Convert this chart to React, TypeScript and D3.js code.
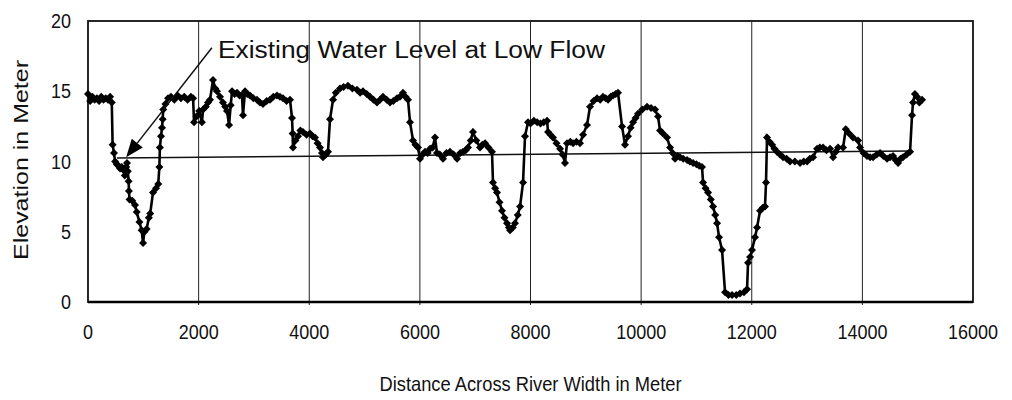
import React from "react";
import * as d3 from "d3";

// distance across the river (m) and bed elevation (m)
const distance = [
  0, 40, 80, 120, 160, 200, 240, 280, 320, 360, 400, 430,
  445, 470, 490, 520, 550, 580, 610, 640, 665, 690, 705, 720, 735, 740, 750,
  800, 850, 880, 930, 970, 995, 1020, 1060, 1100, 1125, 1175, 1230, 1270,
  1290, 1300, 1320, 1338, 1350, 1360, 1400, 1446, 1500, 1560, 1620, 1680,
  1740, 1800, 1860, 1900, 1917, 1960, 2010, 2060, 2080, 2130, 2170, 2206,
  2260, 2300, 2332, 2387, 2440, 2480, 2513, 2550, 2580, 2604, 2650, 2694,
  2740, 2784, 2802, 2839, 2880, 2929, 2990, 3055, 3110, 3164, 3230, 3290,
  3350, 3417, 3470, 3525, 3590, 3652, 3688, 3700, 3706, 3750, 3797, 3840,
  3887, 3950, 4014, 4060, 4104, 4150, 4194, 4230, 4249, 4300, 4339, 4375,
  4430, 4480, 4556, 4620, 4700, 4780, 4863, 4920, 4972, 5040, 5098, 5160,
  5225, 5280, 5333, 5400, 5460, 5520, 5587, 5640, 5695, 5740, 5785, 5822,
  5876, 5920, 5966, 6002, 6050, 6093, 6140, 6184, 6230, 6274, 6310, 6360,
  6418, 6480, 6545, 6610, 6672, 6730, 6780, 6830, 6870, 6920, 6960, 7020,
  7087, 7130, 7178, 7240, 7304, 7322, 7360, 7394, 7440, 7485, 7530, 7575,
  7610, 7630, 7680, 7720, 7770, 7811, 7865, 7901, 7955, 8000, 8060, 8120,
  8180, 8240, 8300, 8317, 8360, 8407, 8470, 8534, 8580, 8624, 8660, 8720,
  8769, 8830, 8895, 8950, 9022, 9076, 9140, 9203, 9260, 9311, 9360, 9402,
  9450, 9492, 9540, 9582, 9655, 9709, 9763, 9810, 9854, 9900, 9944, 10020,
  10107, 10180, 10252, 10306, 10342, 10396, 10468, 10523, 10570, 10613,
  10660, 10703, 10760, 10830, 10880, 10939, 11000, 11050, 11101, 11120,
  11165, 11210, 11260, 11300, 11340, 11373, 11409, 11463, 11517, 11580,
  11644, 11720, 11788, 11860, 11915, 11933, 11970, 12005, 12059, 12096,
  12150, 12200, 12240, 12258, 12276, 12320, 12367, 12410, 12457, 12510,
  12566, 12630, 12692, 12780, 12873, 12940, 13000, 13050, 13108, 13181,
  13230, 13289, 13350, 13416, 13470, 13520, 13560, 13651, 13700, 13760,
  13830, 13922, 13958, 14020, 14084, 14140, 14193, 14260, 14320, 14380,
  14446, 14500, 14555, 14600, 14645, 14690, 14735, 14800, 14862, 14898,
  14916, 14950, 14989, 15030, 15079,
];

const elevation = [
  14.8, 14.3, 14.6, 14.4, 14.5, 14.3, 14.6, 14.4, 14.5, 14.4, 14.6, 14.2,
  11.2, 10.6, 10.0, 9.8, 9.7, 9.5, 9.6, 9.4, 9.0, 9.6, 9.9, 9.3, 8.6, 7.9, 7.3,
  7.2, 6.9, 6.4, 5.7, 5.1, 4.2, 5.0, 5.2, 6.0, 6.3, 7.8, 8.1, 8.4,
  9.6, 11.0, 11.8, 12.4, 13.0, 13.7, 14.1, 14.5, 14.6, 14.4, 14.7, 14.5,
  14.6, 14.4, 14.6, 14.5, 12.8, 13.2, 13.6, 12.8, 13.7, 13.9, 14.2, 14.4,
  15.8, 15.2, 15.0, 14.6, 14.2, 13.9, 13.6, 12.6, 14.0, 15.0, 14.8, 14.9,
  14.7, 14.7, 13.3, 15.0, 14.8, 14.7, 14.5, 14.4, 14.2, 14.1, 14.3, 14.4,
  14.6, 14.7, 14.6, 14.5, 14.3, 14.4, 13.1, 12.0, 11.0, 11.5, 11.8, 12.2,
  12.1, 11.9, 12.0, 11.8, 11.7, 11.3, 11.0, 10.6, 10.3, 10.5, 10.7, 13.0,
  14.4, 14.9, 15.2, 15.3, 15.4, 15.2, 15.1, 14.9, 15.0, 14.8, 14.6, 14.4,
  14.2, 14.4, 14.6, 14.4, 14.2, 14.3, 14.5, 14.6, 14.9, 14.6, 14.4, 12.8,
  11.5, 11.2, 11.0, 10.2, 10.5, 10.7, 10.6, 10.9, 11.0, 11.7, 10.6, 10.5,
  10.2, 10.6, 10.7, 10.5, 10.2, 10.6, 10.7, 10.8, 11.0, 11.5, 12.1, 11.5,
  11.0, 11.2, 11.3, 11.0, 10.7, 8.5, 8.1, 7.8, 7.1, 6.5, 6.0, 5.6,
  5.3, 5.1, 5.3, 5.6, 6.2, 6.8, 8.5, 11.8, 12.8, 12.7, 12.9, 12.8,
  12.7, 12.8, 12.9, 12.1, 11.9, 11.7, 11.3, 10.9, 10.5, 9.9, 11.3, 11.4,
  11.3, 11.4, 11.3, 11.9, 12.6, 13.9, 14.3, 14.5, 14.4, 14.6, 14.5, 14.4,
  14.6, 14.7, 14.8, 14.9, 12.5, 11.2, 11.8, 12.4, 12.8, 13.1, 13.4, 13.7,
  13.9, 13.8, 13.7, 13.2, 12.2, 12.0, 11.7, 11.0, 10.6, 10.2,
  10.4, 10.3, 10.2, 10.1, 10.0, 9.9, 9.8, 9.7, 9.6, 8.5,
  8.1, 7.8, 7.3, 6.8, 6.2, 5.6, 4.6, 3.7, 0.7, 0.5,
  0.5, 0.5, 0.6, 0.7, 0.9, 2.8, 3.2, 3.7, 4.6, 5.3,
  6.5, 6.7, 6.8, 8.5, 11.7, 11.4, 11.2, 10.9, 10.7, 10.5,
  10.3, 10.2, 10.0, 10.0, 9.9, 10.0, 10.0, 10.2, 10.3, 10.9,
  11.0, 11.0, 10.8, 10.9, 10.3, 10.7, 11.0, 11.0, 12.3, 12.0,
  11.7, 11.5, 11.0, 10.6, 10.4, 10.3, 10.3, 10.5, 10.6, 10.4,
  10.2, 10.3, 10.4, 10.1, 9.9, 10.2, 10.3, 10.5, 10.7, 13.3,
  14.2, 14.8, 14.6, 14.2, 14.4,
];

// low-flow water level line (two ends)
const waterX = [524, 14900];
const waterY = [10.25, 10.75];

const xTicks = [0, 2000, 4000, 6000, 8000, 10000, 12000, 14000, 16000];
const yTicks = [0, 5, 10, 15, 20];

const W = 1012;
const H = 400;
const margin = { top: 21, right: 39, bottom: 98, left: 88 };
const font = "'Liberation Sans', Arial, sans-serif";

const App = () => {
  const x = d3
    .scaleLinear()
    .domain([0, 16000])
    .range([margin.left, W - margin.right]);
  const y = d3
    .scaleLinear()
    .domain([0, 20])
    .range([H - margin.bottom, margin.top]);

  const pts: [number, number][] = distance.map((d, i) => [d, elevation[i]]);
  const line = d3
    .line<[number, number]>()
    .x((d) => x(d[0]))
    .y((d) => y(d[1]));

  const marker = d3.symbol().type(d3.symbolSquare).size(32)();

  // annotation arrow, in data units
  const tip = [690, 10.3];
  const tail = [2240, 18.1];
  const ang = Math.atan2(y(tip[1]) - y(tail[1]), x(tip[0]) - x(tail[0]));
  const hl = 18;
  const hw = 7;
  const tx = x(tip[0]);
  const ty = y(tip[1]);
  const bx = tx - hl * Math.cos(ang);
  const by = ty - hl * Math.sin(ang);
  const head = [
    [tx, ty],
    [bx + hw * Math.sin(ang), by - hw * Math.cos(ang)],
    [bx - hw * Math.sin(ang), by + hw * Math.cos(ang)],
  ]
    .map((p) => p.join(","))
    .join(" ");

  return (
    <svg
      width={W}
      height={H}
      style={{ position: "absolute", left: 0, top: 0, background: "#fff" }}
    >
      {/* vertical grid */}
      {xTicks.slice(1, -1).map((t) => (
        <line
          key={t}
          x1={x(t)}
          x2={x(t)}
          y1={y(20)}
          y2={y(0) + 3}
          stroke="#222"
          strokeWidth={1}
        />
      ))}

      {/* plot frame */}
      <rect
        x={x(0)}
        y={y(20)}
        width={x(16000) - x(0)}
        height={y(0) - y(20)}
        fill="none"
        stroke="#111"
        strokeWidth={1.8}
      />
      <line x1={x(0)} x2={x(16000)} y1={y(0)} y2={y(0)} stroke="#000" strokeWidth={2.4} />

      {/* water level */}
      <line
        x1={x(waterX[0])}
        x2={x(waterX[1])}
        y1={y(waterY[0])}
        y2={y(waterY[1])}
        stroke="#111"
        strokeWidth={1.5}
      />

      {/* bed profile */}
      <path d={line(pts) ?? ""} fill="none" stroke="#000" strokeWidth={2.6} />
      {pts.map((d, i) => (
        <path
          key={i}
          d={marker}
          transform={`translate(${x(d[0])},${y(d[1])}) rotate(45)`}
          fill="#000"
        />
      ))}

      {/* arrow + label */}
      <line
        x1={x(tail[0])}
        y1={y(tail[1])}
        x2={bx}
        y2={by}
        stroke="#111"
        strokeWidth={1.5}
      />
      <polygon points={head} fill="#000" />
      <text
        x={x(2350)}
        y={y(17.4)}
        fontFamily={font}
        fontSize={23}
        textLength={387}
        lengthAdjust="spacingAndGlyphs"
        fill="#111"
      >
        Existing Water Level at Low Flow
      </text>

      {/* y tick labels */}
      {yTicks.map((t) => (
        <text
          key={t}
          transform={`translate(71,${y(t) + 7}) scale(1,1.15)`}
          textAnchor="end"
          fontFamily={font}
          fontSize={18}
          fill="#111"
        >
          {t}
        </text>
      ))}

      {/* x tick labels */}
      {xTicks.map((t) => (
        <text
          key={t}
          transform={`translate(${x(t)},339) scale(1,1.15)`}
          textAnchor="middle"
          fontFamily={font}
          fontSize={18}
          fill="#111"
        >
          {t}
        </text>
      ))}

      {/* axis titles */}
      <text
        transform={`translate(${(x(0) + x(16000)) / 2},391) scale(1,1.15)`}
        textAnchor="middle"
        fontFamily={font}
        fontSize={18}
        textLength={302}
        lengthAdjust="spacingAndGlyphs"
        fill="#111"
      >
        Distance Across River Width in Meter
      </text>
      <text
        transform={`translate(28,160) rotate(-90)`}
        textAnchor="middle"
        fontFamily={font}
        fontSize={21}
        textLength={200}
        lengthAdjust="spacingAndGlyphs"
        fill="#111"
      >
        Elevation in Meter
      </text>
    </svg>
  );
};

export default App;
